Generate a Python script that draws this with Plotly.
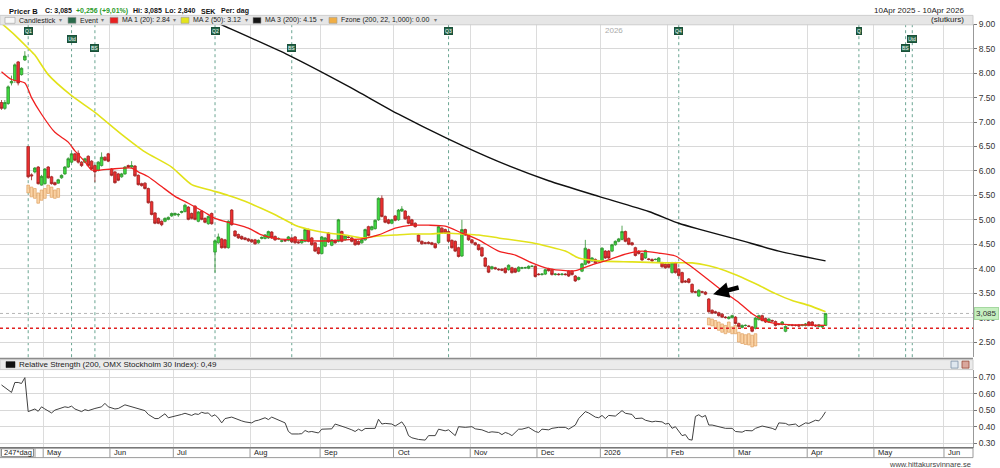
import pandas as pd
import plotly.graph_objects as go

FONT = "Liberation Sans"
W, H = 1000, 468
PW = 973  # width of plotting area in px (right margin holds the value axis)


def px(x):
    return x / PW


def py(y):
    return 1 - y / H


# ---------------- data ----------------
holidays = ['2025-04-18', '2025-04-21', '2025-05-01', '2025-05-29', '2025-06-06', '2025-06-20',
            '2025-12-24', '2025-12-25', '2025-12-26', '2025-12-31', '2026-01-01', '2026-01-06',
            '2026-04-03', '2026-04-06']
hist_dates = [d for d in pd.bdate_range('2025-04-10', '2026-04-10') if d.strftime('%Y-%m-%d') not in holidays]
future_dates = list(pd.bdate_range('2026-04-13', '2026-06-30'))
all_dates = hist_dates + future_dates

opens = [7.40, 7.28, 7.38, 7.80, 7.85, 8.23, 7.97, 8.27, 6.50, 5.92,
         5.98, 6.08, 5.71, 5.74, 6.08, 5.88, 5.76, 5.75, 5.86, 5.94,
         6.08, 6.18, 6.35, 6.36, 6.18, 6.18, 6.30, 6.20, 6.11, 6.01,
         6.11, 6.28, 6.35, 6.04, 5.98, 5.94, 5.88, 5.94, 6.11, 6.08,
         6.10, 5.91, 5.74, 5.75, 5.64, 5.37, 5.14, 5.03, 4.97, 4.97,
         5.01, 5.08, 5.10, 5.10, 5.15, 5.17, 5.26, 5.13, 5.28, 4.97,
         5.18, 5.03, 4.92, 5.13, 4.34, 4.53, 4.61, 4.59, 4.43, 5.20,
         4.77, 4.70, 4.66, 4.63, 4.61, 4.59, 4.59, 4.53, 4.62, 4.62,
         4.63, 4.75, 4.66, 4.61, 4.56, 4.58, 4.58, 4.63, 4.65, 4.55,
         4.53, 4.56, 4.80, 4.63, 4.53, 4.43, 4.31, 4.46, 4.73, 4.48,
         4.58, 4.56, 4.76, 4.59, 4.65, 4.63, 4.59, 4.56, 4.53, 4.59,
         4.86, 4.80, 4.82, 5.00, 5.44, 5.07, 5.00, 4.93, 5.08, 5.00,
         5.18, 5.18, 5.07, 5.00, 4.93, 4.69, 4.56, 4.53, 4.54, 4.53,
         4.51, 4.53, 4.83, 4.80, 4.76, 4.58, 4.56, 4.43, 4.26, 4.80,
         4.69, 4.59, 4.53, 4.49, 4.43, 4.22, 4.05, 4.00, 4.02, 3.99,
         3.99, 4.01, 3.98, 4.02, 4.00, 3.95, 4.01, 4.02, 4.01, 4.05,
         4.05, 3.89, 3.88, 3.89, 4.00, 3.98, 3.88, 3.89, 3.88, 3.89,
         3.95, 3.95, 3.85, 3.78, 3.95, 4.09, 4.39, 4.16, 4.19, 4.15,
         4.16, 4.36, 4.36, 4.36, 4.49, 4.56, 4.60, 4.76, 4.62, 4.53,
         4.43, 4.36, 4.31, 4.22, 4.20, 4.19, 4.19, 4.14, 4.12, 4.09,
         4.09, 3.92, 4.12, 3.99, 3.92, 3.75, 3.79, 3.68, 3.53, 3.44,
         3.53, 3.52, 3.38, 3.15, 3.12, 3.10, 3.07, 3.01, 2.98, 3.00,
         3.01, 2.88, 2.80, 2.84, 2.83, 2.81, 2.78, 2.96, 3.04, 2.98,
         2.91, 2.94, 2.92, 2.87, 2.86, 2.72, 2.85, 2.85, 2.84, 2.85,
         2.84, 2.84, 2.91, 2.91, 2.84, 2.82, 2.81, 2.84]
highs = [7.45, 7.45, 7.75, 7.95, 8.20, 8.25, 8.12, 8.45, 6.50, 5.95,
         6.08, 6.10, 5.92, 6.06, 6.10, 5.90, 5.78, 5.84, 5.93, 6.10,
         6.28, 6.37, 6.37, 6.42, 6.20, 6.27, 6.32, 6.22, 6.13, 6.20,
         6.38, 6.30, 6.37, 6.06, 6.00, 5.96, 5.96, 6.10, 6.13, 6.20,
         6.12, 5.93, 5.76, 5.77, 5.66, 5.39, 5.16, 5.05, 4.99, 5.05,
         5.07, 5.15, 5.15, 5.14, 5.19, 5.33, 5.28, 5.15, 5.30, 5.18,
         5.20, 5.05, 5.09, 5.15, 4.60, 4.72, 4.63, 4.61, 4.99, 5.22,
         4.79, 4.72, 4.68, 4.65, 4.63, 4.61, 4.61, 4.60, 4.66, 4.71,
         4.78, 4.77, 4.68, 4.64, 4.59, 4.60, 4.67, 4.65, 4.67, 4.57,
         4.61, 4.82, 4.82, 4.65, 4.55, 4.45, 4.67, 4.65, 4.75, 4.61,
         4.60, 5.02, 4.78, 4.69, 4.67, 4.65, 4.61, 4.58, 4.61, 4.82,
         4.88, 4.88, 5.01, 5.46, 5.50, 5.09, 5.02, 5.02, 5.10, 5.22,
         5.28, 5.20, 5.09, 5.02, 4.95, 4.71, 4.58, 4.55, 4.56, 4.55,
         4.53, 4.88, 4.85, 4.82, 4.78, 4.60, 4.58, 4.45, 5.00, 4.82,
         4.71, 4.61, 4.55, 4.51, 4.45, 4.24, 4.07, 4.06, 4.04, 4.01,
         4.01, 4.03, 4.09, 4.04, 4.02, 4.05, 4.04, 4.04, 4.07, 4.07,
         4.07, 3.91, 3.91, 4.00, 4.02, 4.00, 3.91, 3.91, 3.91, 3.91,
         3.97, 3.97, 3.87, 3.84, 4.12, 4.59, 4.41, 4.24, 4.21, 4.18,
         4.44, 4.38, 4.38, 4.51, 4.58, 4.63, 4.88, 4.78, 4.64, 4.55,
         4.45, 4.38, 4.33, 4.39, 4.22, 4.21, 4.21, 4.24, 4.14, 4.11,
         4.11, 4.14, 4.14, 4.01, 3.94, 3.77, 3.81, 3.70, 3.55, 3.58,
         3.55, 3.54, 3.40, 3.17, 3.14, 3.12, 3.09, 3.03, 3.03, 3.06,
         3.03, 2.90, 2.86, 2.86, 2.85, 2.83, 3.01, 3.06, 3.06, 3.00,
         2.99, 2.96, 2.94, 2.89, 2.93, 2.84, 2.87, 2.87, 2.86, 2.87,
         2.87, 2.89, 2.93, 2.93, 2.86, 2.87, 2.85, 3.085]
lows = [7.25, 7.25, 7.35, 7.75, 7.80, 7.75, 7.95, 8.25, 5.85, 5.81,
        5.95, 5.72, 5.70, 5.72, 5.84, 5.72, 5.70, 5.74, 5.84, 5.92,
        6.06, 6.16, 6.20, 6.15, 6.08, 6.16, 6.09, 6.02, 5.77, 5.99,
        6.09, 6.20, 6.18, 5.89, 5.74, 5.79, 5.86, 5.92, 6.06, 6.06,
        5.88, 5.70, 5.68, 5.62, 5.33, 5.09, 4.91, 4.91, 4.87, 4.95,
        4.99, 5.06, 5.08, 5.06, 5.13, 5.15, 4.99, 5.01, 4.99, 4.95,
        4.99, 4.93, 4.90, 4.90, 3.92, 4.51, 4.41, 4.41, 4.41, 4.88,
        4.65, 4.61, 4.59, 4.58, 4.55, 4.53, 4.49, 4.51, 4.60, 4.60,
        4.61, 4.61, 4.57, 4.59, 4.54, 4.55, 4.56, 4.53, 4.51, 4.51,
        4.51, 4.54, 4.54, 4.47, 4.34, 4.29, 4.29, 4.44, 4.53, 4.46,
        4.51, 4.54, 4.54, 4.57, 4.62, 4.54, 4.47, 4.48, 4.51, 4.57,
        4.66, 4.78, 4.80, 4.98, 5.05, 4.93, 4.91, 4.91, 4.97, 4.98,
        5.16, 5.00, 4.91, 4.88, 4.84, 4.54, 4.49, 4.50, 4.50, 4.48,
        4.41, 4.51, 4.71, 4.71, 4.54, 4.41, 4.34, 4.23, 4.24, 4.67,
        4.57, 4.51, 4.47, 4.37, 4.24, 4.03, 3.91, 3.98, 3.98, 3.96,
        3.95, 3.90, 3.96, 3.90, 3.91, 3.93, 3.99, 4.00, 3.99, 4.03,
        3.82, 3.86, 3.86, 3.87, 3.94, 3.86, 3.86, 3.86, 3.86, 3.86,
        3.83, 3.86, 3.73, 3.76, 3.93, 4.07, 4.10, 4.14, 4.10, 4.13,
        4.14, 4.20, 4.20, 4.34, 4.47, 4.54, 4.58, 4.54, 4.48, 4.47,
        4.25, 4.29, 4.16, 4.20, 4.17, 4.14, 4.17, 4.12, 4.02, 4.00,
        4.01, 3.90, 3.90, 3.84, 3.70, 3.71, 3.70, 3.50, 3.50, 3.42,
        3.50, 3.46, 3.10, 3.07, 3.08, 3.02, 2.99, 2.98, 2.96, 2.98,
        2.86, 2.80, 2.78, 2.82, 2.80, 2.70, 2.76, 2.94, 2.92, 2.89,
        2.89, 2.91, 2.82, 2.84, 2.84, 2.70, 2.83, 2.82, 2.82, 2.81,
        2.82, 2.82, 2.82, 2.82, 2.81, 2.80, 2.79, 2.84]
closes = [7.28, 7.40, 7.72, 7.83, 8.17, 7.80, 8.10, 8.35, 5.88, 5.90,
          6.06, 5.74, 5.89, 6.04, 5.86, 5.74, 5.72, 5.82, 5.91, 6.08,
          6.25, 6.35, 6.22, 6.18, 6.11, 6.25, 6.11, 6.04, 5.98, 6.18,
          6.28, 6.22, 6.20, 5.91, 5.76, 5.81, 5.94, 6.08, 6.08, 6.11,
          5.90, 5.72, 5.70, 5.64, 5.35, 5.11, 4.93, 4.93, 4.90, 5.03,
          5.05, 5.13, 5.13, 5.11, 5.17, 5.30, 5.01, 5.03, 5.01, 5.16,
          5.01, 4.95, 5.07, 4.92, 4.57, 4.65, 4.43, 4.43, 4.97, 4.90,
          4.67, 4.63, 4.61, 4.60, 4.57, 4.55, 4.51, 4.58, 4.64, 4.69,
          4.76, 4.63, 4.59, 4.62, 4.57, 4.57, 4.65, 4.55, 4.53, 4.53,
          4.59, 4.80, 4.56, 4.49, 4.36, 4.31, 4.65, 4.63, 4.55, 4.59,
          4.53, 5.00, 4.56, 4.67, 4.64, 4.56, 4.49, 4.50, 4.59, 4.80,
          4.68, 4.86, 4.99, 5.44, 5.07, 4.95, 4.93, 5.00, 4.99, 5.20,
          5.22, 5.02, 4.93, 4.90, 4.86, 4.56, 4.51, 4.52, 4.52, 4.50,
          4.43, 4.86, 4.73, 4.73, 4.56, 4.43, 4.36, 4.25, 4.80, 4.69,
          4.59, 4.53, 4.49, 4.39, 4.26, 4.05, 3.93, 4.04, 4.00, 3.98,
          3.97, 3.92, 4.07, 3.92, 3.93, 4.03, 4.02, 4.02, 4.05, 4.05,
          3.84, 3.88, 3.89, 3.98, 3.96, 3.88, 3.89, 3.88, 3.89, 3.88,
          3.85, 3.88, 3.75, 3.82, 4.10, 4.42, 4.12, 4.22, 4.12, 4.16,
          4.42, 4.22, 4.22, 4.49, 4.56, 4.61, 4.76, 4.56, 4.50, 4.49,
          4.27, 4.31, 4.18, 4.37, 4.19, 4.16, 4.19, 4.22, 4.04, 4.02,
          4.03, 4.12, 3.92, 3.86, 3.72, 3.73, 3.72, 3.52, 3.52, 3.56,
          3.52, 3.48, 3.12, 3.09, 3.10, 3.04, 3.01, 3.00, 3.01, 3.04,
          2.88, 2.82, 2.84, 2.84, 2.82, 2.72, 2.99, 3.04, 2.94, 2.91,
          2.97, 2.93, 2.84, 2.86, 2.91, 2.82, 2.85, 2.84, 2.84, 2.83,
          2.85, 2.87, 2.84, 2.84, 2.83, 2.85, 2.829, 3.085]

# moving averages (trading-day index, value)
ma1_idx = [0, 3, 7, 9, 12, 16, 20, 22, 25, 27, 30, 33, 39, 41, 44, 48, 52, 56, 61, 64, 69, 74, 78, 83,
           88, 93, 98, 103, 108, 113, 118, 123, 128, 133, 138, 143, 149, 154, 159, 164, 169, 172, 177,
           182, 187, 192, 197, 202, 206, 211, 216, 221, 225, 229, 233, 237, 241, 247]
ma1_val = [8.03, 7.87, 7.80, 7.50, 7.16, 6.79, 6.59, 6.41, 6.19, 6.02, 6.02, 6.04, 6.06, 5.98, 5.88, 5.68,
           5.48, 5.34, 5.15, 5.03, 4.93, 4.83, 4.69, 4.61, 4.59, 4.57, 4.57, 4.59, 4.61, 4.69, 4.83, 4.89,
           4.89, 4.87, 4.73, 4.59, 4.36, 4.28, 4.12, 4.00, 3.96, 3.96, 4.08, 4.18, 4.30, 4.36, 4.32, 4.26,
           4.08, 3.82, 3.55, 3.31, 3.08, 2.93, 2.87, 2.85, 2.85, 2.84]
ma2_idx = [0, 4, 8, 10, 14, 21, 28, 36, 43, 51, 57, 63, 68, 73, 78, 83, 88, 93, 98, 103, 108, 113, 118,
           123, 128, 133, 138, 143, 149, 159, 169, 173, 179, 189, 199, 207, 212, 217, 222, 227, 232, 237,
           242, 247]
ma2_val = [9.02, 8.78, 8.51, 8.37, 7.97, 7.54, 7.20, 6.75, 6.39, 6.08, 5.72, 5.60, 5.50, 5.38, 5.23, 5.07,
           4.89, 4.79, 4.73, 4.69, 4.63, 4.67, 4.69, 4.71, 4.71, 4.73, 4.71, 4.69, 4.63, 4.53, 4.36, 4.22,
           4.16, 4.14, 4.12, 4.12, 4.06, 3.96, 3.82, 3.66, 3.49, 3.35, 3.25, 3.12]
ma3_idx = [61, 65, 86, 104, 119, 134, 149, 164, 179, 194, 203, 209, 221, 233, 247]
ma3_val = [9.15, 9.02, 8.37, 7.73, 7.16, 6.65, 6.19, 5.80, 5.48, 5.17, 4.93, 4.81, 4.59, 4.36, 4.16]

# Fzone boxes (trading-day index, top, bottom)
fz_idx = [8, 9, 10, 11, 12, 13, 14, 15, 16, 17,
          212, 213, 214, 215, 216, 217, 218, 219, 220, 221, 222, 223, 224, 225, 226]
fz_top = [5.71, 5.67, 5.64, 5.55, 5.61, 5.64, 5.71, 5.67, 5.61, 5.64,
          2.99, 2.97, 2.94, 2.91, 2.87, 2.84, 2.91, 2.81, 2.84, 2.70, 2.67, 2.65, 2.67, 2.64, 2.67]
fz_bot = [5.55, 5.47, 5.44, 5.34, 5.40, 5.44, 5.54, 5.46, 5.44, 5.46,
          2.85, 2.83, 2.79, 2.74, 2.70, 2.67, 2.70, 2.67, 2.67, 2.50, 2.47, 2.45, 2.44, 2.40, 2.42]

# Relative strength vs OMX Stockholm 30 (trading-day index, value)
rs_idx = [0, 1, 3, 4, 5, 6, 7, 8, 9, 10, 11, 12, 13, 15, 16, 18, 19, 20, 21, 22, 24, 25, 26, 28, 29, 30,
          31, 32, 34, 35, 37, 38, 40, 41, 43, 44, 46, 47, 49, 50, 51, 52, 54, 55, 56, 57, 58, 59, 60, 61,
          62, 63, 64, 65, 66, 67, 69, 70, 72, 73, 75, 76, 77, 79, 80, 81, 83, 85, 86, 87, 89, 90, 91, 92,
          93, 95, 96, 97, 99, 100, 101, 103, 105, 106, 107, 108, 109, 112, 113, 114, 115, 117, 118, 120,
          121, 122, 123, 125, 127, 128, 130, 131, 133, 134, 136, 137, 139, 141, 142, 144, 146, 147, 149,
          150, 151, 152, 153, 155, 156, 158, 160, 161, 162, 164, 165, 167, 169, 170, 172, 173, 175, 176,
          178, 179, 180, 181, 182, 184, 186, 187, 189, 190, 192, 193, 195, 196, 198, 199, 200, 201, 202,
          204, 205, 206, 207, 208, 209, 210, 211, 212, 213, 215, 217, 219, 220, 222, 223, 225, 226, 228,
          229, 231, 232, 233, 235, 236, 238, 239, 241, 242, 244, 245, 246, 247]
rs_val = [0.652, 0.636, 0.607, 0.667, 0.667, 0.661, 0.696, 0.491, 0.500, 0.507, 0.493, 0.520, 0.507,
          0.483, 0.500, 0.516, 0.520, 0.516, 0.524, 0.507, 0.491, 0.503, 0.497, 0.510, 0.514, 0.520,
          0.541, 0.520, 0.507, 0.510, 0.532, 0.526, 0.516, 0.510, 0.497, 0.474, 0.449, 0.449, 0.478,
          0.454, 0.458, 0.466, 0.474, 0.481, 0.474, 0.468, 0.478, 0.474, 0.487, 0.481, 0.483, 0.462,
          0.472, 0.452, 0.423, 0.449, 0.458, 0.449, 0.435, 0.429, 0.423, 0.435, 0.439, 0.454, 0.443,
          0.458, 0.439, 0.423, 0.371, 0.356, 0.356, 0.358, 0.377, 0.368, 0.371, 0.362, 0.385, 0.385,
          0.387, 0.416, 0.410, 0.396, 0.381, 0.371, 0.385, 0.375, 0.389, 0.390, 0.445, 0.416, 0.420,
          0.416, 0.404, 0.429, 0.400, 0.346, 0.333, 0.323, 0.319, 0.346, 0.346, 0.385, 0.375, 0.381,
          0.346, 0.400, 0.396, 0.400, 0.387, 0.381, 0.365, 0.369, 0.365, 0.352, 0.365, 0.358, 0.346,
          0.385, 0.385, 0.396, 0.371, 0.365, 0.385, 0.381, 0.390, 0.396, 0.396, 0.385, 0.410, 0.449,
          0.491, 0.483, 0.458, 0.454, 0.468, 0.449, 0.468, 0.464, 0.497, 0.481, 0.474, 0.449, 0.452,
          0.439, 0.429, 0.433, 0.429, 0.416, 0.420, 0.390, 0.400, 0.346, 0.352, 0.323, 0.319, 0.462,
          0.472, 0.458, 0.468, 0.410, 0.410, 0.400, 0.390, 0.390, 0.371, 0.367, 0.377, 0.375, 0.390,
          0.404, 0.400, 0.390, 0.381, 0.423, 0.420, 0.410, 0.416, 0.400, 0.423, 0.420, 0.439, 0.435,
          0.458, 0.490]

# events (trading-day index, label, label row)
ev_idx = [8, 21, 28, 64, 87, 134, 203, 257, 271, 273]
ev_txt = ['Q1', 'Utd', 'BS', 'Q2', 'BS', 'Q3', 'Q4', 'Q', 'BS', 'Utd']
ev_row = ['Q', 'U', 'B', 'Q', 'B', 'Q', 'Q', 'Q', 'B', 'U']

price_ticks = [2.5, 3.0, 3.5, 4.0, 4.5, 5.0, 5.5, 6.0, 6.5, 7.0, 7.5, 8.0, 8.5, 9.0]
rs_ticks = [0.3, 0.4, 0.5, 0.6, 0.7]
last_close = 3.085
stop_level = 2.78
arrow_idx, arrow_price = 213.3, 3.48

# ---------------- derived positions ----------------
n = len(closes)
x_idx = list(range(n))
bounds, blabels = [], []
for k in range(1, len(all_dates)):
    if all_dates[k].month != all_dates[k - 1].month:
        bounds.append(k - 0.5)
        blabels.append('2026' if all_dates[k].month == 1 else all_dates[k].strftime('%b'))

X0, X1 = -0.45, 291.2

fig = go.Figure()

fig.add_trace(go.Bar(x=fz_idx, y=[t - b for t, b in zip(fz_top, fz_bot)], base=fz_bot, width=0.8,
                     marker=dict(color='rgba(250,205,150,0.85)', line=dict(color='#e0a060', width=0.7)),
                     xaxis='x', yaxis='y', hoverinfo='skip'))

fig.add_trace(go.Candlestick(x=x_idx, open=opens, high=highs, low=lows, close=closes,
                             increasing=dict(line=dict(color='#2f8f2f', width=0.8), fillcolor='#3fdc3f'),
                             decreasing=dict(line=dict(color='#a02222', width=0.8), fillcolor='#ee3030'),
                             whiskerwidth=0, xaxis='x', yaxis='y', hoverinfo='skip'))

fig.add_trace(go.Scatter(x=ma3_idx, y=ma3_val, mode='lines', line=dict(color='#111111', width=1.4, shape='spline', smoothing=0.6),
                         xaxis='x', yaxis='y', hoverinfo='skip'))
fig.add_trace(go.Scatter(x=ma2_idx, y=ma2_val, mode='lines', line=dict(color='#e2e21a', width=1.6, shape='spline', smoothing=0.6),
                         xaxis='x', yaxis='y', hoverinfo='skip'))
fig.add_trace(go.Scatter(x=ma1_idx, y=ma1_val, mode='lines', line=dict(color='#f02020', width=1.3, shape='spline', smoothing=0.6),
                         xaxis='x', yaxis='y', hoverinfo='skip'))

fig.add_trace(go.Scatter(x=rs_idx, y=rs_val, mode='lines', line=dict(color='#404040', width=1),
                         xaxis='x2', yaxis='y2', hoverinfo='skip'))

shapes = []
ann = []

# horizontal reference lines
shapes.append(dict(type='line', xref='paper', x0=0, x1=1, yref='y', y0=last_close, y1=last_close,
                   line=dict(color='#b5b5b5', width=1, dash='dot'), layer='below'))
shapes.append(dict(type='line', xref='paper', x0=0, x1=1, yref='y', y0=stop_level, y1=stop_level,
                   line=dict(color='#e02020', width=1.5, dash='dot')))

# event lines
for e in ev_idx:
    shapes.append(dict(type='line', xref='x', x0=e, x1=e, yref='paper', y0=py(356), y1=py(20),
                       line=dict(color='#6aa592', width=1, dash='dot'), layer='below'))
row_y = {'Q': 26.5, 'U': 34.5, 'B': 43}
for e, t, r in zip(ev_idx, ev_txt, ev_row):
    ann.append(dict(xref='x', x=e, yref='paper', y=py(row_y[r]), text=t, showarrow=False,
                    font=dict(family=FONT, size=5, color='white'), bgcolor='#23684a',
                    bordercolor='#1b4f38', borderwidth=1, borderpad=0, xanchor='center', yanchor='middle'))

# title row
title_items = [(7, '<b>Pricer B</b>', '#111', 7.5), (43, '<b>C: 3,085</b>', '#111', 7),
               (74, '<b>+0,256 (+9,01%)</b>', '#2a9a2a', 7), (131, '<b>Hi: 3,085</b>', '#111', 7),
               (163, '<b>Lo: 2,840</b>', '#111', 7), (199, '<b>SEK</b>', '#111', 7),
               (219, '<b>Per: dag</b>', '#111', 7)]
for x, t, c, s in title_items:
    ann.append(dict(xref='paper', x=px(x), yref='paper', y=py(6.3), text=t, showarrow=False,
                    font=dict(family=FONT, size=s, color=c), xanchor='left', yanchor='middle'))

# legend bar
shapes.append(dict(type='rect', xref='paper', x0=0, x1=1, yref='paper', y0=py(20), y1=py(10.5),
                   fillcolor='#e6e6e6', line=dict(color='#cdcdcd', width=1)))
leg = [(5, 15, '#f7f7f7', 'Candlestick', 57), (68, 76, '#2a6b4b', 'Event', 99),
       (110, 118, '#e82020', 'MA 1 (20): 2.84', 171), (181, 189, '#e4e41c', 'MA 2 (50): 3.12', 243),
       (253, 261, '#151515', 'MA 3 (200): 4.15', 318), (329, 337, '#f0ae45', 'Fzone (200, 22, 1,000): 0.00', 432)]
for x0, x1, col, txt, dd in leg:
    shapes.append(dict(type='rect', xref='paper', x0=px(x0), x1=px(x1), yref='paper', y0=py(18.5), y1=py(12.5),
                       fillcolor=col, line=dict(color='#9a9a9a', width=0.6)))
    ann.append(dict(xref='paper', x=px(x1 + 1.5), yref='paper', y=py(15.6), text=txt, showarrow=False,
                    font=dict(family=FONT, size=7, color='#222'), xanchor='left', yanchor='middle'))
    ann.append(dict(xref='paper', x=px(dd), yref='paper', y=py(15.6), text='▾', showarrow=False,
                    font=dict(family=FONT, size=6, color='#777'), xanchor='left', yanchor='middle'))

# date range text
ann.append(dict(xref='paper', x=px(966), yref='paper', y=py(6), text='10Apr 2025 - 10Apr 2026', showarrow=False,
                font=dict(family=FONT, size=8, color='#222'), xanchor='right', yanchor='middle'))
ann.append(dict(xref='paper', x=px(966), yref='paper', y=py(15), text='(slutkurs)', showarrow=False,
                font=dict(family=FONT, size=8, color='#222'), xanchor='right', yanchor='middle'))

# year label in price panel
for b, lab in zip(bounds, blabels):
    if lab == '2026':
        ann.append(dict(xref='x', x=b, xshift=3, yref='paper', y=py(26), text='2026', showarrow=False,
                        font=dict(family=FONT, size=8, color='#aaaaaa'), xanchor='left', yanchor='middle'))

# arrow
ann.append(dict(xref='x', x=arrow_idx, yref='y', y=arrow_price, ax=27, ay=-7, text='', showarrow=True,
                arrowhead=2, arrowsize=0.7, arrowwidth=4.5, arrowcolor='black'))

# last price label
ann.append(dict(xref='paper', x=px(974), yref='y', y=last_close, text='3,085', showarrow=False,
                font=dict(family=FONT, size=8, color='#333'), bgcolor='#c6efc0', bordercolor='#a5d8a0',
                borderwidth=1, borderpad=1, xanchor='left', yanchor='middle'))

# divider & RS header
shapes.append(dict(type='line', xref='paper', x0=0, x1=1, yref='paper', y0=py(357.5), y1=py(357.5),
                   line=dict(color='#8c8c8c', width=2)))
shapes.append(dict(type='rect', xref='paper', x0=0, x1=1, yref='paper', y0=py(368.5), y1=py(358.5),
                   fillcolor='#ebebeb', line=dict(color='#cccccc', width=1)))
shapes.append(dict(type='rect', xref='paper', x0=px(6), x1=px(15), yref='paper', y0=py(366.5), y1=py(360.5),
                   fillcolor='#111111', line=dict(color='#111111', width=0.5)))
ann.append(dict(xref='paper', x=px(17), yref='paper', y=py(363.6),
                text='Relative Strength (200, OMX Stockholm 30 Index): 0,49', showarrow=False,
                font=dict(family=FONT, size=8, color='#222'), xanchor='left', yanchor='middle'))
shapes.append(dict(type='rect', xref='paper', x0=px(951), x1=px(958), yref='paper', y0=py(367), y1=py(360),
                   fillcolor='#dfe7ef', line=dict(color='#7f93a8', width=0.8)))
shapes.append(dict(type='rect', xref='paper', x0=px(962), x1=px(969), yref='paper', y0=py(367), y1=py(360),
                   fillcolor='#d9a79d', line=dict(color='#9c4a3a', width=0.8)))

# date label row
shapes.append(dict(type='rect', xref='paper', x0=0, x1=1, yref='paper', y0=py(457.5), y1=py(447.5),
                   fillcolor='white', line=dict(color='#9a9a9a', width=1)))
shapes.append(dict(type='line', xref='paper', x0=0, x1=1, yref='paper', y0=py(447.5), y1=py(447.5),
                   line=dict(color='#777777', width=1.5)))
shapes.append(dict(type='rect', xref='paper', x0=px(1.5), x1=px(33.5), yref='paper', y0=py(456.5), y1=py(448.5),
                   fillcolor='white', line=dict(color='#8a8a8a', width=1)))
shapes.append(dict(type='line', xref='paper', x0=px(35), x1=px(35), yref='paper', y0=py(457.5), y1=py(447.5),
                   line=dict(color='#9a9a9a', width=1)))
ann.append(dict(xref='paper', x=px(17.5), yref='paper', y=py(452.6), text='247*dag', showarrow=False,
                font=dict(family=FONT, size=7.5, color='#222'), xanchor='center', yanchor='middle'))
for b, lab in zip(bounds, blabels):
    if b < X1:
        shapes.append(dict(type='line', xref='x', x0=b, x1=b, yref='paper', y0=py(457.5), y1=py(447.5),
                           line=dict(color='#9a9a9a', width=1)))
        ann.append(dict(xref='x', x=b, xshift=2, yref='paper', y=py(452.6), text=lab, showarrow=False,
                        font=dict(family=FONT, size=7.5, color='#222'), xanchor='left', yanchor='middle'))

ann.append(dict(xref='paper', x=px(973), yref='paper', y=py(464.5), text='www.hittakursvinnare.se', showarrow=False,
                font=dict(family=FONT, size=7.5, color='#444'), xanchor='right', yanchor='middle'))

xcommon = dict(range=[X0, X1], tickmode='array', tickvals=bounds, showticklabels=False, ticks='',
               showgrid=True, gridcolor='#dcdcdc', gridwidth=1, zeroline=False, showline=False, fixedrange=True)
fig.update_layout(
    width=W, height=H, margin=dict(l=0, r=W - PW, t=0, b=0),
    paper_bgcolor='white', plot_bgcolor='white', showlegend=False,
    boxgap=0.12, boxgroupgap=0.12, barmode='overlay',
    font=dict(family=FONT, size=8, color='#222'),
    xaxis=dict(domain=[0, 1], anchor='y', rangeslider=dict(visible=False), **xcommon),
    xaxis2=dict(domain=[0, 1], anchor='y2', matches='x', **xcommon),
    yaxis=dict(domain=[py(356), py(19.5)], range=[2.19, 9.0], side='right', anchor='x',
               tickmode='array', tickvals=price_ticks, ticktext=['%.2f' % v for v in price_ticks],
               ticks='outside', ticklen=3, tickcolor='#777', tickfont=dict(family=FONT, size=8.5, color='#333'),
               showgrid=True, gridcolor='#d8d8d8', zeroline=False, showline=True, linecolor='#999', fixedrange=True),
    yaxis2=dict(domain=[py(447.5), py(368.5)], range=[0.273, 0.745], side='right', anchor='x2',
                tickmode='array', tickvals=rs_ticks, ticktext=['%.2f' % v for v in rs_ticks],
                ticks='outside', ticklen=3, tickcolor='#777', tickfont=dict(family=FONT, size=8.5, color='#333'),
                showgrid=True, gridcolor='#d8d8d8', zeroline=False, showline=True, linecolor='#999', fixedrange=True),
    shapes=shapes, annotations=ann,
)

fig.write_html('out.html')
